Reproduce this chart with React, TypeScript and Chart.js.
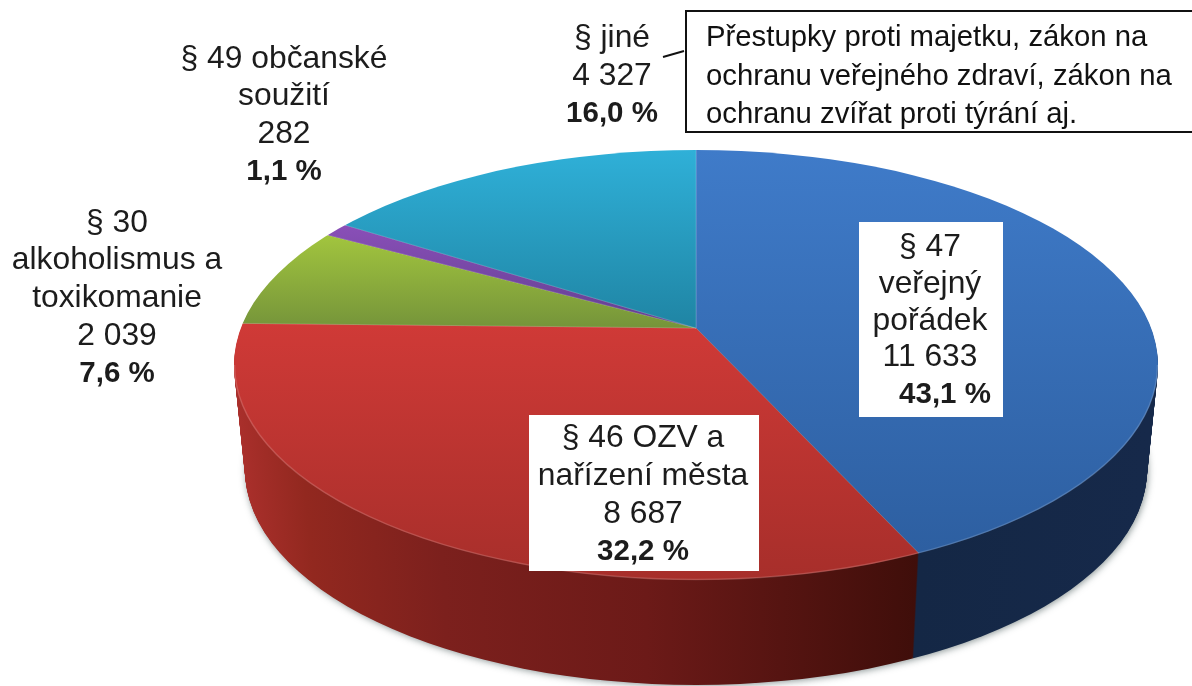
import React, { useEffect, useRef } from "react";
import { Chart, registerables } from "chart.js";

Chart.register(...registerables);

// ---- data ----
const categories = ["§ 47 veřejný pořádek", "§ 46 OZV a nařízení města", "§ 30 alkoholismus a toxikomanie", "§ 49 občanské soužití", "§ jiné"];
const values = [11633, 8687, 2039, 282, 4327];
const nameLines = [
  ["§ 47", "veřejný", "pořádek"],
  ["§ 46 OZV a", "nařízení města"],
  ["§ 30", "alkoholismus a", "toxikomanie"],
  ["§ 49 občanské", "soužití"],
  ["§ jiné"],
];
const valueLabels = ["11 633", "8 687", "2 039", "282", "4 327"];
const percentLabels = ["43,1 %", "32,2 %", "7,6 %", "1,1 %", "16,0 %"];
const noteLines = [
  "Přestupky proti majetku, zákon na",
  "ochranu veřejného zdraví, zákon na",
  "ochranu zvířat proti týrání aj.",
];

// ---- styling ----
const topStops = [
  ["#3f7bc9", "#2c5d9e"],
  ["#d03a37", "#a62e2a"],
  ["#a2c53e", "#74933a"],
  ["#8a4fb8", "#5f3f8e"],
  ["#2fb0d8", "#1f84a3"],
];
const sideStops = [
  ["#142745", "#16294a"],
  ["#a92f2b", "#3f0e0a"],
  ["#5f7a25", "#5f7a25"],
  ["#4d2f70", "#4d2f70"],
  ["#1a6a85", "#1a6a85"],
];
const sideRanges = [
  [920, 1150],
  [236, 920],
  [240, 340],
  [330, 350],
  [340, 696],
];
const labelLayout = [
  { x: 930, y: 247, line: 36.9, box: [859, 222, 144, 195], pctShift: 15 },
  { x: 643, y: 438, line: 38.1, box: [529, 415, 230, 156], pctShift: 0 },
  { x: 117, y: 223, line: 37.6, box: null, pctShift: 0 },
  { x: 284, y: 59, line: 37.6, box: null, pctShift: 0 },
  { x: 612, y: 38, line: 37.9, box: null, pctShift: 0 },
];
const FONT = '"Liberation Sans", Arial, sans-serif';
const FONT_SIZE = 31.8;
const BOLD_SIZE = 29.5;
const NOTE_SIZE = 29.3;
const CX = 696;
const APEX_Y = 328;
const E_Y = 365;
const RX = 462;
const RY = 215;
const DEPTH = 105;
const RX_BOTTOM = 451;
const K = RY / RX;

const ellipsePath = (ctx: CanvasRenderingContext2D, d: number, rx: number) => {
  ctx.beginPath();
  ctx.ellipse(CX, E_Y + d, rx, RY, 0, 0, Math.PI * 2);
};

const pie3d = {
  id: "pie3d",
  beforeDraw(chart: any) {
    const ctx = chart.ctx as CanvasRenderingContext2D;
    ctx.save();
    ctx.fillStyle = "#ffffff";
    ctx.fillRect(0, 0, chart.width, chart.height);
    ctx.restore();
  },
  beforeDatasetDraw(chart: any) {
    const ctx = chart.ctx as CanvasRenderingContext2D;
    const arcs = chart.getDatasetMeta(0).data;
    const side = sideStops.map((s, i) => {
      const g = ctx.createLinearGradient(sideRanges[i][0], 0, sideRanges[i][1], 0);
      if (i === 1) {
        g.addColorStop(0, s[0]);
        g.addColorStop(0.1, "#92281f");
        g.addColorStop(0.3, "#7c201d");
        g.addColorStop(0.6, "#6c1a18");
        g.addColorStop(1, s[1]);
      } else {
        g.addColorStop(0, s[0]);
        g.addColorStop(1, s[1]);
      }
      return g;
    });
    // soft shadow below the disc
    ctx.save();
    ctx.shadowColor = "rgba(40,60,60,0.55)";
    ctx.shadowBlur = 7;
    ctx.shadowOffsetY = 2;
    ctx.shadowOffsetX = 1;
    ctx.fillStyle = "#333";
    ellipsePath(ctx, DEPTH - 1, RX_BOTTOM);
    ctx.fill();
    ctx.restore();
    // extruded side, built from the library's arcs layer by layer
    for (let d = DEPTH; d >= 1; d--) {
      const rx = RX + (RX_BOTTOM - RX) * (d / DEPTH);
      ctx.save();
      ellipsePath(ctx, d, rx);
      ctx.clip();
      ctx.translate(CX, APEX_Y + d);
      ctx.scale(rx / RX, K);
      ctx.translate(-CX, -APEX_Y);
      arcs.forEach((arc: any, i: number) => {
        const o = arc.options;
        arc.options = { ...o, backgroundColor: side[i], borderWidth: 0 };
        arc.draw(ctx);
        arc.options = o;
      });
      ctx.restore();
    }
    // top face: library draws slices, clipped to the ellipse and squashed
    ctx.save();
    ellipsePath(ctx, 0, RX);
    ctx.clip();
    ctx.translate(CX, APEX_Y);
    ctx.scale(1, K);
    ctx.translate(-CX, -APEX_Y);
  },
  afterDatasetDraw(chart: any) {
    const ctx = chart.ctx as CanvasRenderingContext2D;
    ctx.restore();
    // light rim on the front edge
    ctx.save();
    ctx.beginPath();
    ctx.ellipse(CX, E_Y, RX - 0.5, RY - 0.5, 0, 0, Math.PI);
    ctx.strokeStyle = "rgba(255,255,255,0.16)";
    ctx.lineWidth = 1.5;
    ctx.stroke();
    ctx.restore();
  },
  afterDraw(chart: any) {
    const ctx = chart.ctx as CanvasRenderingContext2D;
    ctx.save();
    ctx.textBaseline = "middle";
    ctx.fillStyle = "#1c1c1c";
    categories.forEach((_, i) => {
      const l = labelLayout[i];
      if (l.box) {
        ctx.fillStyle = "#ffffff";
        ctx.fillRect(l.box[0], l.box[1], l.box[2], l.box[3]);
      }
      ctx.fillStyle = "#1c1c1c";
      ctx.textAlign = "center";
      ctx.font = `${FONT_SIZE}px ${FONT}`;
      const lines = [...nameLines[i], valueLabels[i]];
      lines.forEach((t, j) => ctx.fillText(t, l.x, l.y + j * l.line));
      ctx.font = `bold ${BOLD_SIZE}px ${FONT}`;
      ctx.fillText(percentLabels[i], l.x + l.pctShift, l.y + lines.length * l.line);
    });
    // callout
    ctx.fillStyle = "#ffffff";
    ctx.strokeStyle = "#111111";
    ctx.lineWidth = 2;
    ctx.fillRect(686, 11, 510, 121);
    ctx.strokeRect(686, 11, 510, 121);
    ctx.beginPath();
    ctx.moveTo(663, 57);
    ctx.lineTo(684, 51);
    ctx.stroke();
    ctx.fillStyle = "#111111";
    ctx.textAlign = "left";
    ctx.font = `${NOTE_SIZE}px ${FONT}`;
    noteLines.forEach((t, j) => ctx.fillText(t, 706, 38 + j * 38.5));
    ctx.restore();
  },
};

export default function App() {
  const ref = useRef<HTMLCanvasElement | null>(null);
  useEffect(() => {
    document.body.style.margin = "0";
    const canvas = ref.current!;
    const ctx = canvas.getContext("2d")!;
    // gradient in the squashed space of the top face
    const toUser = (y: number) => APEX_Y + (y - APEX_Y) / K;
    const topFill = topStops.map((s, i) => {
      const spans = [[150, 580], [320, 585], [235, 330], [225, 330], [150, 330]];
      const g = ctx.createLinearGradient(0, toUser(spans[i][0]), 0, toUser(spans[i][1]));
      g.addColorStop(0, s[0]);
      g.addColorStop(1, s[1]);
      return g;
    });
    const chart = new Chart(ctx, {
      type: "pie",
      data: {
        labels: categories,
        datasets: [
          {
            data: values,
            backgroundColor: topFill,
            borderColor: "rgba(255,255,255,0.22)",
            borderWidth: 1,
            radius: 1000,
          } as any,
        ],
      },
      options: {
        responsive: false,
        animation: false,
        layout: { padding: { left: 200, right: 0, top: 0, bottom: 30 } },
        plugins: { legend: { display: false }, tooltip: { enabled: false }, title: { display: false } },
      },
      plugins: [pie3d],
    });
    return () => chart.destroy();
  }, []);
  return <canvas ref={ref} width={1192} height={686} style={{ display: "block" }} />;
}
